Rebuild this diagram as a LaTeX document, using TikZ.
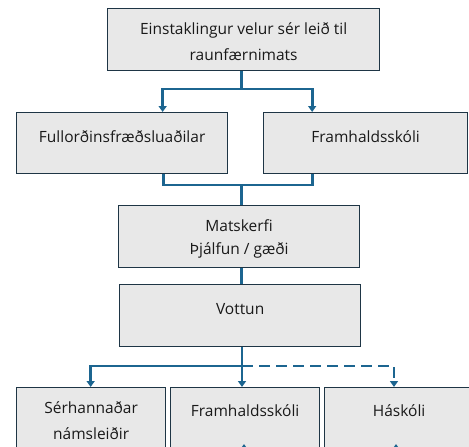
\documentclass[tikz,border=0pt]{standalone}
\usepackage{fontspec}
\setmainfont{Open Sans}
\usetikzlibrary{arrows.meta}
\definecolor{boxfill}{HTML}{E8E8E8}
\definecolor{boxline}{HTML}{1E3545}
\definecolor{conn}{HTML}{1C6590}
\newcommand{\bxt}[4]{\parbox[c][#2pt][t]{#1pt}{\centering\vspace*{#3pt}#4\par}}
\begin{document}
\begin{tikzpicture}[x=1pt,y=-1pt,
  box/.style={draw=boxline, line width=1.3pt, fill=boxfill, inner sep=0pt, anchor=north west,
    font=\fontsize{15.5}{26}\selectfont, text=black!90},
  link/.style={draw=conn, line width=2.8pt},
  arr/.style={link, -{Triangle[width=8pt,length=6pt]}},
]
\useasboundingbox (0,0) rectangle (469,447);
\clip (0,0) rectangle (469,447);
\node[box] (top) at (107,8) {\bxt{272}{62}{13.5}{Einstaklingur velur sér leið til\\raunfærnimats}};
\node[box] (fullo) at (16,112) {\bxt{211}{61}{18}{Fullorðinsfræðsluaðilar}};
\node[box] (framA) at (263,112) {\bxt{204}{61}{18}{Framhaldsskóli}};
\node[box, font=\fontsize{15.5}{23}\selectfont] (mat) at (118,205) {\bxt{241}{62}{14}{Matskerfi\\Þjálfun / gæði}};
\node[box] (vott) at (119,284) {\bxt{241}{62}{19}{Vottun}};
\node[box] (ser) at (16,387) {\bxt{149}{80}{14}{Sérhannaðar\\námsleiðir}};
\node[box] (framB) at (170,387) {\bxt{149}{80}{17}{Framhaldsskóli}};
\node[box] (has) at (324,387) {\bxt{149}{80}{17}{Háskóli}};
% top split
\coordinate (s1) at (241.5,89);
\draw[link] (top.south -| s1) -- (s1);
\draw[arr] (s1) -| ([xshift=40.5pt]fullo.north);
\draw[arr] (s1) -| ([xshift=-53.5pt]framA.north);
% merge
\coordinate (m1) at (241.5,185);
\draw[link] ([xshift=41.5pt]fullo.south) |- (m1);
\draw[link] ([xshift=-53.5pt]framA.south) |- (m1);
\draw[link] (m1) -- (mat.north -| m1);
\draw[link] (mat.south -| m1) -- (vott.north -| m1);
% bottom split
\coordinate (s2) at (242,366);
\draw[arr] (vott.south -| s2) -- (framB.north -| s2);
\draw[arr] (s2) -| ([xshift=-0.5pt]ser.north);
\draw[arr, dashed, dash pattern=on 11pt off 6pt] (s2) -| (has.north -| 394,0);
% arrows from below
\coordinate (b1) at (244,470);
\coordinate (b2) at (396,470);
\draw[arr] (b1) -- ++(0,-26);
\draw[arr] (b2) -- ++(0,-26);
\end{tikzpicture}
\end{document}
